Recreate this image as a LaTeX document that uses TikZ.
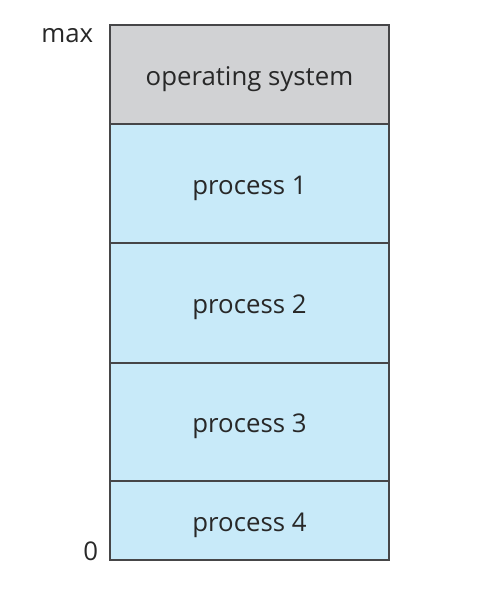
\documentclass[tikz,border=0pt]{standalone}
\usepackage{fontspec}
\setmainfont{Open Sans}
\usepackage{tikz}
\usetikzlibrary{positioning}
\definecolor{osgray}{RGB}{209,210,212}
\definecolor{procblue}{RGB}{200,234,249}
\definecolor{edgegray}{RGB}{70,70,72}
\definecolor{txtgray}{RGB}{40,40,40}

\begin{document}
\begin{tikzpicture}[
    font=\fontsize{22}{26}\selectfont,
    text=txtgray,
    region/.style={draw=edgegray, line width=1.3pt, fill=procblue, minimum width=8.37cm, inner sep=0pt, outer sep=0pt, text height=18pt, text depth=0pt, align=center},
    addr/.style={inner sep=0pt}
]
\useasboundingbox (0,0) rectangle (14.4,-18.3);
\node[region, fill=osgray, minimum height=2.97cm, anchor=north west] (os) at (3.3,-0.75) {operating system};
\node[region, minimum height=3.57cm, below=0pt of os] (p1) {process 1};
\node[region, minimum height=3.6cm, below=0pt of p1] (p2) {process 2};
\node[region, minimum height=3.54cm, below=0pt of p2] (p3) {process 3};
\node[region, minimum height=2.37cm, below=0pt of p3] (p4) {process 4};

\node[addr, anchor=east] (max) at (2.8,-1.08) {max};
\node[addr, anchor=east] (zero) at (2.95,-16.53) {0};
\end{tikzpicture}
\end{document}
